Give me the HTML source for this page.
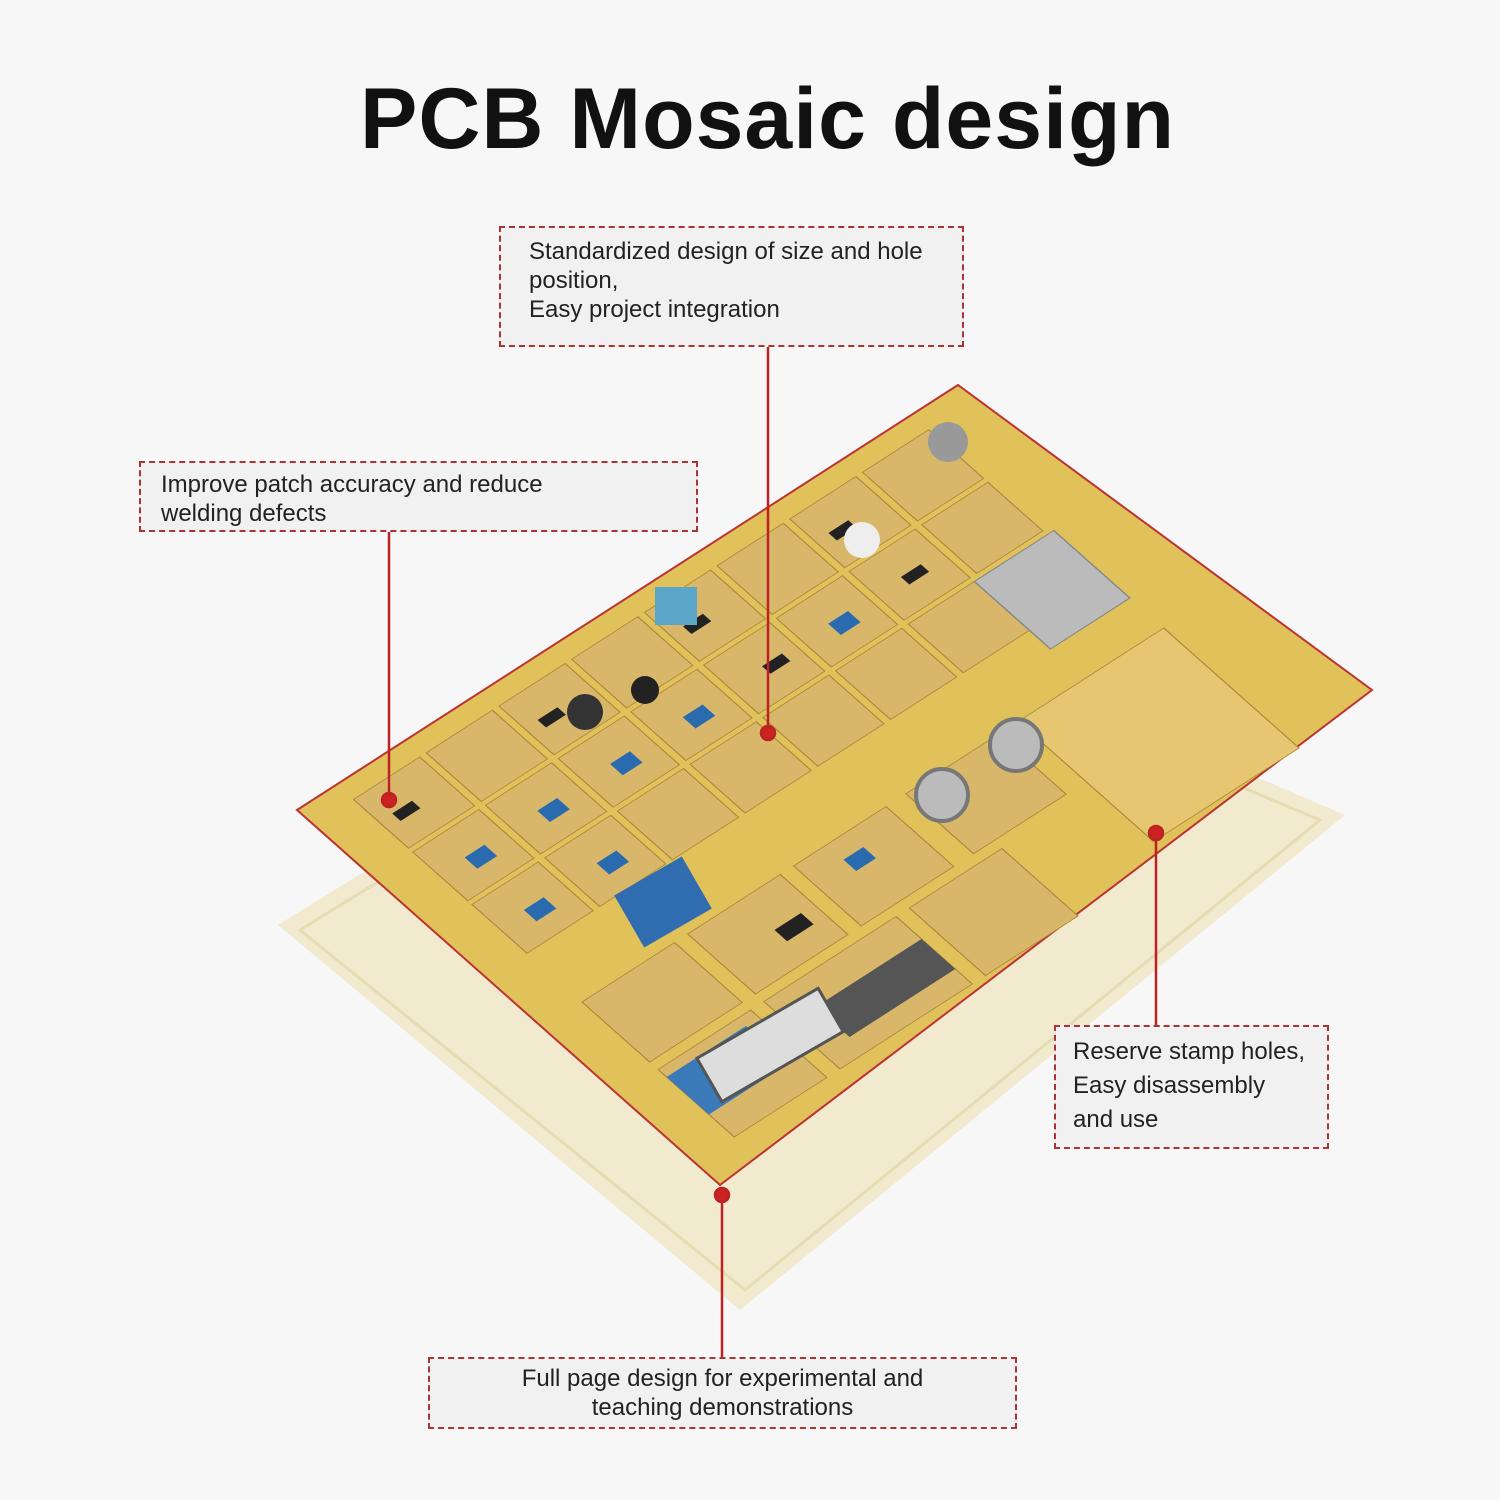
<!DOCTYPE html>
<html><head><meta charset="utf-8"><style>
body{margin:0;width:1500px;height:1500px;background:#f7f7f7;position:relative;overflow:hidden;font-family:"Liberation Sans","DejaVu Sans",sans-serif;}
h1{position:absolute;top:70px;left:0;width:1535px;text-align:center;margin:0;font-size:86px;font-weight:bold;color:#111;letter-spacing:1px}
.box{position:absolute;border:2px dashed #a33;background:#f1f1f1;color:#222;font-size:24px;line-height:29px;box-sizing:border-box}
svg{position:absolute;left:0;top:0}
</style></head><body>
<svg width="1500" height="1500" viewBox="0 0 1500 1500">
 <polygon points="278,925 820,590 1345,815 740,1310" fill="#efe6c4" opacity="0.8"/>
 <polygon points="300,930 820,610 1320,820 745,1290" fill="none" stroke="#e6dbb2" stroke-width="3"/>
 <polygon points="297,810 958,385 1372,690 720,1185" fill="#e0c15a" stroke="#b33" stroke-width="2"/>
 <g transform="matrix(6.61,-4.25,4.23,3.75,297,810)">
  <g fill="#d9b76a" stroke="#a8893a" stroke-width="0.15">
   <rect x="6" y="4" width="10" height="13"/><rect x="17" y="4" width="10" height="13"/><rect x="28" y="4" width="10" height="13"/><rect x="39" y="4" width="10" height="13"/><rect x="50" y="4" width="10" height="13"/><rect x="61" y="4" width="10" height="13"/><rect x="72" y="4" width="10" height="13"/><rect x="83" y="4" width="10" height="13"/>
   <rect x="6" y="18" width="10" height="13"/><rect x="17" y="18" width="10" height="13"/><rect x="28" y="18" width="10" height="13"/><rect x="39" y="18" width="10" height="13"/><rect x="50" y="18" width="10" height="13"/><rect x="61" y="18" width="10" height="13"/><rect x="72" y="18" width="10" height="13"/><rect x="83" y="18" width="10" height="13"/>
   <rect x="6" y="32" width="10" height="13"/><rect x="17" y="32" width="10" height="13"/><rect x="28" y="32" width="10" height="13"/><rect x="39" y="32" width="10" height="13"/><rect x="50" y="32" width="10" height="13"/><rect x="61" y="32" width="10" height="13"/><rect x="72" y="32" width="10" height="13"/>
   <rect x="6" y="58" width="14" height="16"/><rect x="22" y="58" width="14" height="16"/><rect x="38" y="58" width="14" height="16"/><rect x="55" y="58" width="14" height="16"/>
   <rect x="6" y="76" width="14" height="18"/><rect x="22" y="76" width="20" height="18"/><rect x="44" y="76" width="14" height="18"/>
  </g>
  <rect x="72" y="58" width="22" height="32" fill="#e6c670" stroke="#a8893a" stroke-width="0.15"/>
  <g fill="#2a6bb0"><rect x="10" y="24" width="3" height="3"/><rect x="21" y="24" width="3" height="3"/><rect x="32" y="24" width="3" height="3"/><rect x="10" y="38" width="3" height="3"/><rect x="21" y="38" width="3" height="3"/><rect x="43" y="24" width="3" height="3"/><rect x="65" y="24" width="3" height="3"/><rect x="43" y="62" width="3" height="3"/></g>
  <g fill="#222"><rect x="8" y="10" width="3" height="2"/><rect x="30" y="10" width="3" height="2"/><rect x="52" y="10" width="3" height="2"/><rect x="74" y="10" width="3" height="2"/><rect x="55" y="24" width="3" height="2"/><rect x="76" y="24" width="3" height="2"/><rect x="30" y="66" width="4" height="3"/></g>
  <rect x="6" y="78" width="12" height="10" fill="#3a7ab8"/>
  <rect x="26" y="82" width="16" height="8" fill="#555"/>
  <rect x="82" y="32" width="12" height="18" fill="#bbb" stroke="#888" stroke-width="0.2"/>
 </g>
 <circle cx="948" cy="442" r="20" fill="#999"/><circle cx="585" cy="712" r="18" fill="#333"/><circle cx="645" cy="690" r="14" fill="#222"/>
 <circle cx="942" cy="795" r="26" fill="#bbb" stroke="#777" stroke-width="4"/><circle cx="1016" cy="745" r="26" fill="#bbb" stroke="#777" stroke-width="4"/>
 <circle cx="862" cy="540" r="18" fill="#eee"/>
 <rect x="655" y="587" width="42" height="38" fill="#5aa6c8"/>
 <rect x="624" y="872" width="78" height="60" fill="#2f6db0" transform="rotate(-30 663 902)"/>
 <rect x="700" y="1020" width="140" height="50" fill="#ddd" stroke="#555" stroke-width="3" transform="rotate(-30 770 1045)"/>
 <g stroke="#b22" stroke-width="2.5" fill="#c22">
  <line x1="768" y1="346" x2="768" y2="733"/><circle cx="768" cy="733" r="7"/>
  <line x1="389" y1="531" x2="389" y2="800"/><circle cx="389" cy="800" r="7"/>
  <line x1="1156" y1="833" x2="1156" y2="1025"/><circle cx="1156" cy="833" r="7"/>
  <line x1="722" y1="1195" x2="722" y2="1357"/><circle cx="722" cy="1195" r="7"/>
 </g>
</svg>
<h1>PCB Mosaic design</h1>
<div class="box" style="left:499px;top:226px;width:465px;height:121px;padding:9px 0 0 28px">Standardized design of size and hole<br>position,<br>Easy project integration</div>
<div class="box" style="left:139px;top:461px;width:559px;height:71px;padding:7px 0 0 20px">Improve patch accuracy and reduce<br>welding defects</div>
<div class="box" style="left:1054px;top:1025px;width:275px;height:124px;padding:8px 0 0 17px;line-height:34px">Reserve stamp holes,<br>Easy disassembly<br>and use</div>
<div class="box" style="left:428px;top:1357px;width:589px;height:72px;padding:5px 0 0 0;text-align:center">Full page design for experimental and<br>teaching demonstrations</div>
</body></html>
